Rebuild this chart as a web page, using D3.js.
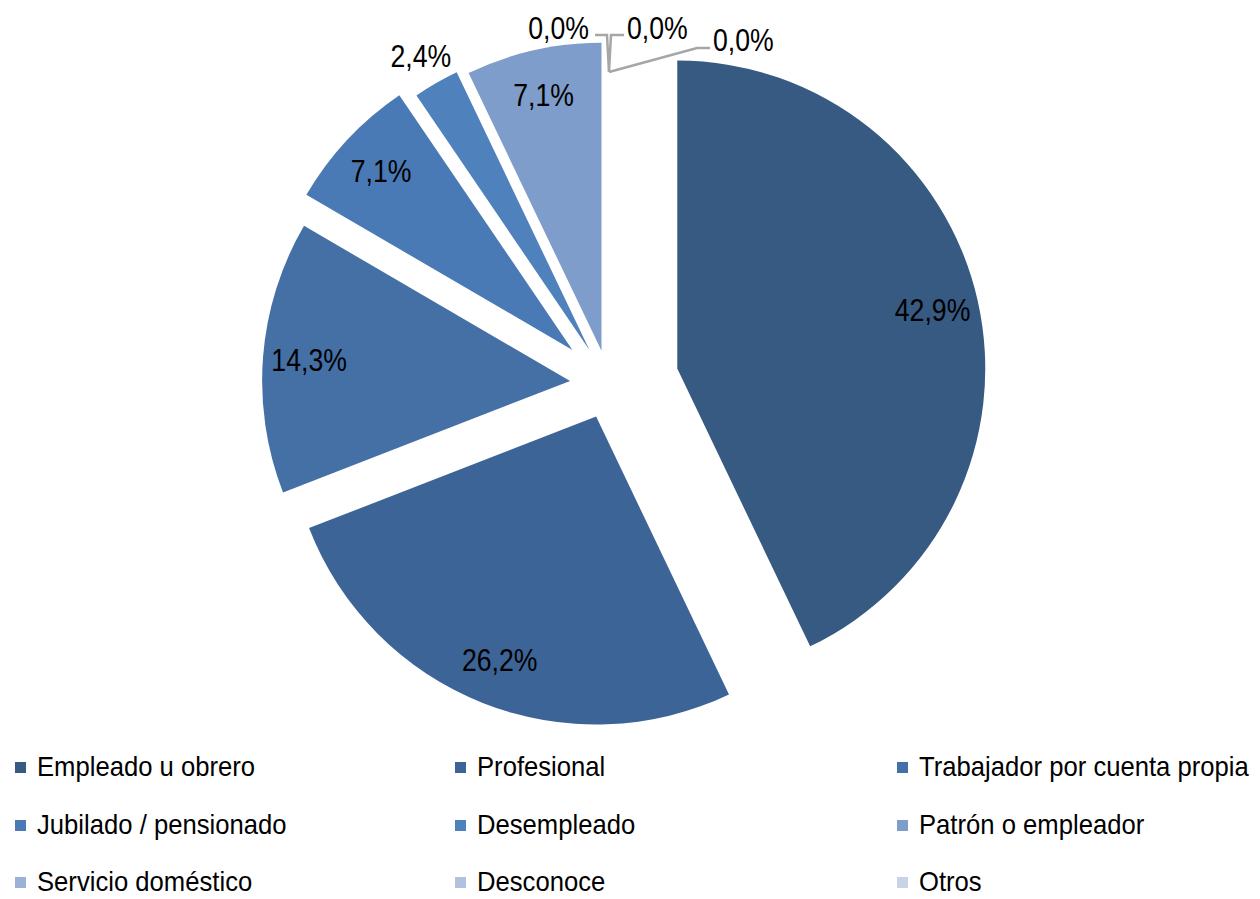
<!DOCTYPE html>
<html lang="es">
<head>
<meta charset="utf-8">
<title>Ocupación</title>
<script src="https://d3js.org/d3.v7.min.js"></script>
<style>
  body { margin: 0; background: #fff; }
  text { font-family: "Liberation Sans", Arial, sans-serif; fill: #000; }
</style>
</head>
<body>
<script>
// data
var categories = ["Empleado u obrero", "Profesional", "Trabajador por cuenta propia",
  "Jubilado / pensionado", "Desempleado", "Patrón o empleador",
  "Servicio doméstico", "Desconoce", "Otros"];
var values = [42.9, 26.2, 14.3, 7.1, 2.4, 7.1, 0.0, 0.0, 0.0];

// styling
var colors = ["#375a83", "#3d6496", "#4470a6", "#4a7ab5", "#4f81bd",
  "#7e9dca", "#9cb1d7", "#b2c1df", "#c9d3e8"];
var explode = [70, 35, 39, 50, 39, 34, 4, 4, 4];

var width = 1260, height = 899;
var cx = 609, cy = 384, radius = 308;
var labelSize = 31, labelScale = 0.86;   // narrow look
var legendSize = 27, legendScale = 0.95;

var svg = d3.select("body").append("svg")
  .attr("width", width)
  .attr("height", height);

var pie = d3.pie().sort(null).value(function(d) { return d; });
var arcs = pie(values);
var arc = d3.arc().innerRadius(0).outerRadius(radius);

function offset(d, i) {
  var a = (d.startAngle + d.endAngle) / 2;
  return [Math.sin(a) * explode[i], -Math.cos(a) * explode[i]];
}

function fmt(v) { return d3.format(".1f")(v).replace(".", ",") + "%"; }

function place(x, y, s) {
  return "translate(" + x + "," + y + ") scale(" + s + ",1)";
}

var g = svg.append("g").attr("transform", "translate(" + cx + "," + cy + ")");

var slice = g.selectAll(".slice")
  .data(arcs)
  .enter().append("g")
  .attr("class", "slice")
  .attr("transform", function(d, i) {
    var o = offset(d, i);
    return "translate(" + o[0] + "," + o[1] + ")";
  });

slice.filter(function(d) { return d.value > 0; })
  .append("path")
  .attr("d", arc)
  .attr("fill", function(d, i) { return colors[i]; });

// labels of non-zero slices
slice.filter(function(d) { return d.value > 0; })
  .append("text")
  .attr("transform", function(d) {
    var a = (d.startAngle + d.endAngle) / 2;
    var lr = d.value < 5 ? radius * 1.1 : radius * 0.85;
    return place(Math.sin(a) * lr, -Math.cos(a) * lr, labelScale);
  })
  .attr("dy", "0.35em")
  .attr("text-anchor", "middle")
  .style("font-size", labelSize + "px")
  .text(function(d) { return fmt(d.value); });

// zero slices: leader lines to labels
var zero = arcs.map(function(d, i) { return {d: d, i: i}; })
  .filter(function(e) { return e.d.value === 0; });
var leader = [
  {pts: [[-2, -37], [-14, -37]], tx: -20, ty: -44, anchor: "end"},
  {pts: [[2, -37], [15, -37]], tx: 18, ty: -44, anchor: "start"},
  {pts: [[88, -24], [101, -24]], tx: 104, ty: -32, anchor: "start"}
];

zero.forEach(function(e, k) {
  var o = offset(e.d, e.i);
  var ax = o[0] + Math.sin(e.d.startAngle) * radius;
  var ay = o[1] - Math.cos(e.d.startAngle) * radius;
  var L = leader[k];
  var pts = [[ax, ay]].concat(L.pts.map(function(p) { return [ax + p[0], ay + p[1]]; }));
  g.append("path")
    .attr("d", d3.line()(pts))
    .attr("fill", "none")
    .attr("stroke", "#a6a6a6")
    .attr("stroke-width", 2.5);
  g.append("text")
    .attr("transform", place(ax + L.tx, ay + L.ty, labelScale))
    .attr("dy", "0.35em")
    .attr("text-anchor", L.anchor)
    .style("font-size", labelSize + "px")
    .text(fmt(e.d.value));
});

// legend
var colX = [15, 455, 897];
var rowY = [767, 825, 882];
var legend = svg.selectAll(".legend")
  .data(categories)
  .enter().append("g")
  .attr("class", "legend")
  .attr("transform", function(d, i) {
    return "translate(" + colX[i % 3] + "," + rowY[Math.floor(i / 3)] + ")";
  });
legend.append("rect")
  .attr("x", 0).attr("y", -5)
  .attr("width", 11).attr("height", 11)
  .attr("fill", function(d, i) { return colors[i]; });
legend.append("text")
  .attr("transform", place(22, 0, legendScale))
  .attr("dy", "0.35em")
  .style("font-size", legendSize + "px")
  .text(function(d) { return d; });
</script>
</body>
</html>
